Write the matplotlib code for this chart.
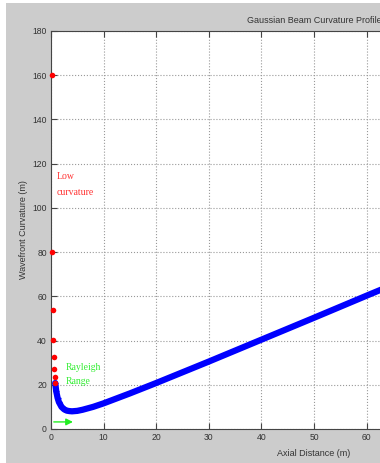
import matplotlib.pyplot as plt
from matplotlib.patches import Rectangle

# Near-field points (red)
near_z = [0.1, 0.2, 0.3, 0.4, 0.5, 0.6, 0.7, 0.8]
near_r = [160.1, 80.2, 53.6, 40.4, 32.5, 27.3, 23.6, 20.8]

# Main curvature curve (blue)
beam_z = [0.8, 1.0, 1.25, 1.5, 2.0, 2.5, 3.0, 3.5, 4.0, 5.0, 6.0, 8.0, 10.0,
          15.0, 20.0, 30.0, 40.0, 50.0, 60.0, 70.0, 80.0, 90.0, 100.0]
beam_r = [20.8, 17.0, 14.1, 12.2, 10.0, 8.9, 8.3, 8.1, 8.0, 8.2, 8.7, 10.0, 11.6,
          16.1, 20.8, 30.5, 40.4, 50.3, 60.3, 70.2, 80.2, 90.2, 100.2]

rayleigh = 4.7

plt.rcParams['font.family'] = ['Liberation Sans', 'DejaVu Sans']

fig = plt.figure(figsize=(3.8, 4.63), dpi=100, facecolor='white')
fig.patches.append(Rectangle((6 / 380, 0), 1, 1 - 3 / 463, transform=fig.transFigure,
                             facecolor='#cccccc', edgecolor='none', zorder=-10))

# axes run past the right edge of the picture, as in the cropped original
ax = fig.add_axes([51 / 380, 34 / 463, 526 / 380, 398 / 463])
ax.set_facecolor('white')

ax.plot(beam_z, beam_r, '-', color='#0000ff', linewidth=4.5, solid_capstyle='round', zorder=3)
ax.plot(beam_z[:6], beam_r[:6], '+', color='#0000ff', markersize=4, zorder=3)
ax.plot(near_z, near_r, 'o', color='#ff0000', markersize=4, markeredgewidth=0, zorder=4,
        clip_on=False)

ax.annotate('', xy=(rayleigh, 3.2), xytext=(0, 3.2),
            arrowprops=dict(arrowstyle='-|>', color='#22ee22', lw=1, mutation_scale=10))
serif = ['Liberation Serif', 'DejaVu Serif']
ax.text(2.7, 28, 'Rayleigh', color='#33ee33', fontsize=7, family=serif, va='center', ha='left')
ax.text(2.7, 21.5, 'Range', color='#33ee33', fontsize=7, family=serif, va='center', ha='left')
ax.text(1.1, 114, 'Low', color='#ff3333', fontsize=7, family=serif, va='center', ha='left')
ax.text(1.1, 107, 'curvature', color='#ff3333', fontsize=7, family=serif, va='center', ha='left')

ax.set_xlim(0, 100)
ax.set_ylim(0, 180)
xt = list(range(0, 101, 10))
ax.set_xticks(xt)
ax.set_xticklabels([str(v) if v <= 60 else '' for v in xt])
ax.set_yticks(range(0, 181, 20))
ax.grid(True, linestyle=':', color='#999999', linewidth=0.8)
ax.tick_params(direction='in', length=4, width=0.8, colors='#444444', labelsize=6.2,
               top=True, right=True, labelcolor='#333333', pad=3)
for s in ax.spines.values():
    s.set_color('#444444')
    s.set_linewidth(0.8)

ax.set_title('Gaussian Beam Curvature Profile', fontsize=6.5, color='#333333', pad=6)
ax.set_xlabel('Axial Distance (m)', fontsize=6.5, color='#333333', labelpad=5)
ax.set_ylabel('Wavefront Curvature (m)', fontsize=6.5, color='#333333', labelpad=3)

fig.savefig('out.png', dpi=100, facecolor=fig.get_facecolor())
